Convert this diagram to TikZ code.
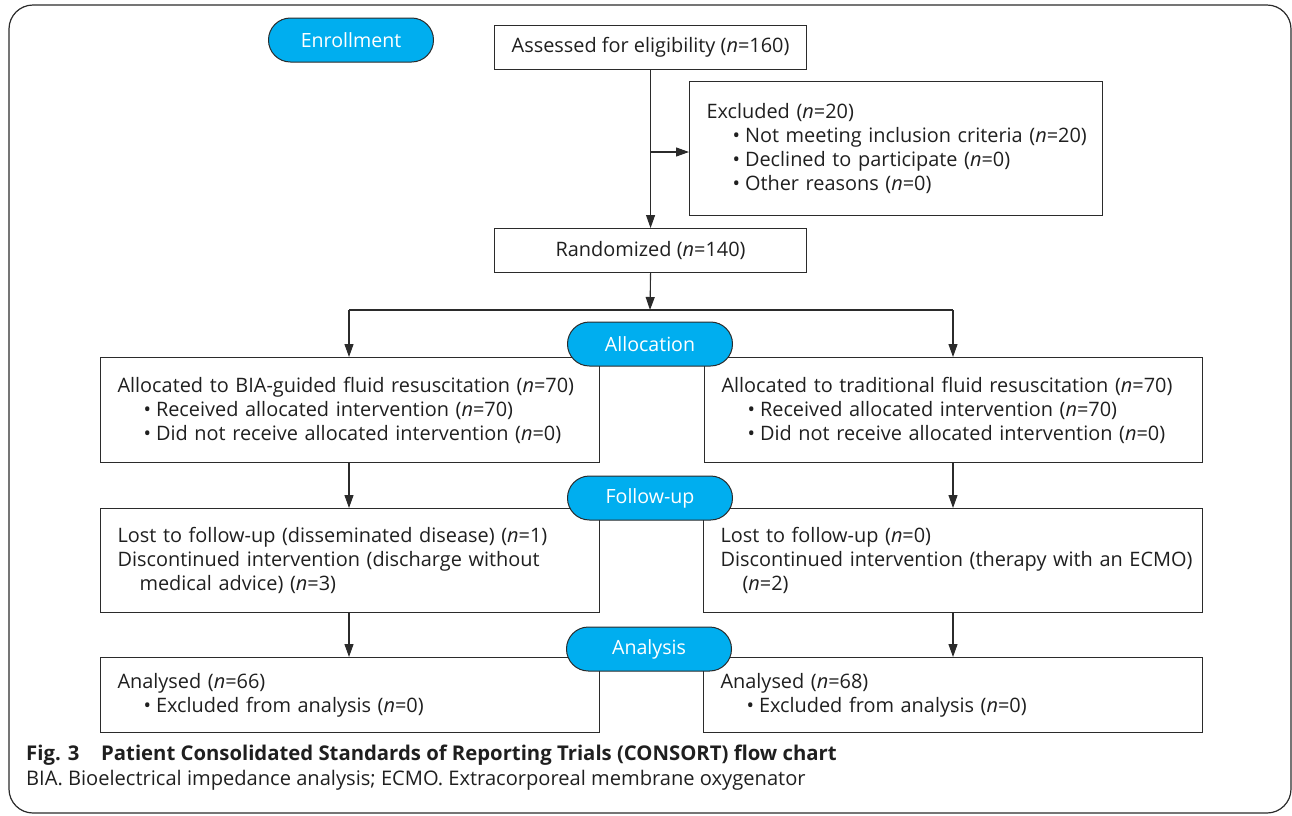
\documentclass[tikz,border=0pt]{standalone}
\usepackage{fontspec}
\setmainfont{Open Sans}
\usetikzlibrary{arrows.meta,calc}
\definecolor{pillblue}{HTML}{00AEEF}
\definecolor{linegray}{HTML}{2B2B2B}
\newcommand{\nv}{\textit{n}}
\newcommand{\bul}{\hspace*{26pt}\textbullet\hspace{5pt}}
\newcommand{\hang}{\hspace*{22pt}}
\newcommand{\li}[1]{\mbox{#1}}
\begin{document}
\begin{tikzpicture}[x=1pt,y=-1pt,
  every node/.style={font=\fontsize{19.9}{24}\selectfont, text=black!88},
  stepbox/.style={draw=linegray, line width=1.1pt, anchor=north west, inner xsep=17pt, inner ysep=0pt, align=left},
  centbox/.style={draw=linegray, line width=1.1pt, anchor=north west, inner sep=0pt, align=center},
  pill/.style={draw=linegray, line width=1pt, fill=pillblue, text=white, rounded corners=21.9pt, minimum width=165pt, minimum height=44pt, inner sep=0pt, font=\fontsize{19.6}{24}\selectfont},
  conn/.style={draw=linegray, line width=1.1pt},
  arr/.style={conn, -{Triangle[length=13pt,width=9pt]}},
]
\useasboundingbox (0,0) rectangle (1292,815);
\draw[linegray, line width=1.2pt, rounded corners=24pt] (9,5) rectangle (1291,813);

% boxes
\node[centbox, minimum width=312pt, minimum height=44pt] (assess) at (494,25) {Assessed for eligibility (\nv=160)};
\node[stepbox, text width=379pt, minimum height=134pt] (excl) at (689,81)
  {\li{Excluded (\nv=20)}\\ \li{\bul Not meeting inclusion criteria (\nv=20)}\\ \li{\bul Declined to participate (\nv=0)}\\ \li{\bul Other reasons (\nv=0)}};
\node[centbox, minimum width=312pt, minimum height=44pt] (rand) at (494,228) {Randomized (\nv=140)};

\node[stepbox, text width=465pt, minimum height=105pt] (allocL) at (100,357)
  {\li{Allocated to BIA-guided fluid resuscitation (\nv=70)}\\ \li{\bul Received allocated intervention (\nv=70)}\\ \li{\bul Did not receive allocated intervention (\nv=0)}};
\node[stepbox, text width=464pt, minimum height=105pt] (allocR) at (704,357)
  {\li{Allocated to traditional fluid resuscitation (\nv=70)}\\ \li{\bul Received allocated intervention (\nv=70)}\\ \li{\bul Did not receive allocated intervention (\nv=0)}};

\node[stepbox, text width=465pt, minimum height=104pt] (fupL) at (100,508)
  {\li{Lost to follow-up (disseminated disease) (\nv=1)}\\ \li{Discontinued intervention (discharge without}\\ \li{\hang medical advice) (\nv=3)}};
\node[stepbox, text width=465pt, minimum height=104pt] (fupR) at (703,508)
  {\li{Lost to follow-up (\nv=0)}\\ \li{Discontinued intervention (therapy with an ECMO)}\\ \li{\hang (\nv=2)}};

\node[stepbox, text width=465pt, minimum height=75pt] (anaL) at (100,657)
  {\li{Analysed (\nv=66)}\\ \li{\bul Excluded from analysis (\nv=0)}};
\node[stepbox, text width=465pt, minimum height=75pt] (anaR) at (703,657)
  {\li{Analysed (\nv=68)}\\ \li{\bul Excluded from analysis (\nv=0)}};

% connectors
\coordinate (br) at (650,152);
\coordinate (split) at (650,310);
\coordinate (cL) at (349,310);
\coordinate (cR) at (953,310);
\draw[arr] (assess.south) -- (rand.north);
\draw[arr] (br) -- (excl.west |- br);
\draw[arr] (rand.south) -- (split);
\draw[conn] (cL) -- (cR);
\draw[arr] (cL) -- (cL |- allocL.north);
\draw[arr] (cR) -- (cR |- allocR.north);
\draw[arr] (cL |- allocL.south) -- (cL |- fupL.north);
\draw[arr] (cR |- allocR.south) -- (cR |- fupR.north);
\draw[arr] (cL |- fupL.south) -- (cL |- anaL.north);
\draw[arr] (cR |- fupR.south) -- (cR |- anaR.north);

% stage pills
\node[pill] (penroll) at (351,40) {Enrollment};
\node[pill] (palloc) at (650,344) {Allocation};
\node[pill] (pfup) at (650,498) {Follow-up};
\node[pill] (pana) at (649,649) {Analysis};

% caption
\node[anchor=west, inner sep=0pt, font=\fontsize{20.3}{24}\selectfont\bfseries] (figno) at (26,755) {Fig. 3};
\node[anchor=west, inner sep=0pt, font=\fontsize{20.3}{24}\selectfont\bfseries] (captitle) at (101,755) {Patient Consolidated Standards of Reporting Trials (CONSORT) flow chart};
\node[anchor=west, inner sep=0pt, font=\fontsize{20.1}{24}\selectfont] (capnote) at (26,780) {BIA. Bioelectrical impedance analysis; ECMO. Extracorporeal membrane oxygenator};
\end{tikzpicture}
\end{document}
